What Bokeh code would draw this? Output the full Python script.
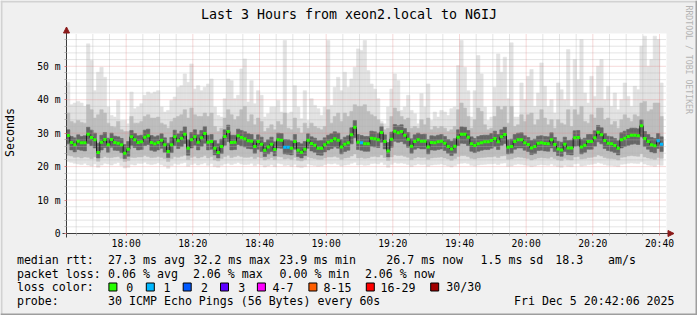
import math
from datetime import datetime
from bokeh.plotting import figure
from bokeh.models import (ColumnDataSource, Range1d, FixedTicker, DatetimeTickFormatter,
                          Arrow, NormalHead)
from bokeh.core.properties import value
from bokeh.embed import file_html
from bokeh.resources import INLINE

# ---------------- data ----------------
TITLE = "Last 3 Hours from xeon2.local to N6IJ"
START = datetime(2025, 12, 5, 17, 42, 6)
END = datetime(2025, 12, 5, 20, 42, 6)
STEP_S = 60
Y_MAX = 59.8  # ms

median_ms = [
    29.3, 27.2, 26.5, 27.6, 27.1, 27.1, 29.7, 28.7, 28.0, 24.2,
    27.3, 28.1, 26.5, 28.1, 27.2, 27.0, 26.5, 24.0, 25.2, 28.9,
    28.0, 27.2, 27.4, 28.8, 29.2, 27.2, 26.8, 27.2, 27.9, 26.5,
    24.5, 26.5, 28.9, 27.7, 28.5, 29.7, 25.5, 28.0, 28.9, 27.3,
    28.6, 29.9, 27.3, 27.5, 25.5, 24.2, 26.0, 29.0, 30.5, 27.2,
    27.3, 29.2, 28.7, 28.3, 27.7, 27.6, 26.0, 27.5, 26.7, 24.9,
    25.9, 26.7, 25.1, 28.0, 27.9, 25.8, 25.8, 25.5, 27.5, 24.9,
    24.3, 25.2, 27.9, 26.9, 26.4, 25.5, 25.5, 26.5, 27.3, 27.7,
    28.3, 27.9, 25.9, 26.7, 27.1, 29.5, 31.8, 27.3, 27.1, 26.8,
    26.8, 28.5, 28.3, 28.0, 30.2, 27.5, 24.7, 28.2, 30.6, 30.1,
    30.5, 29.4, 28.2, 26.1, 27.5, 28.0, 27.6, 27.6, 25.9, 27.2,
    27.1, 27.4, 27.6, 27.0, 26.0, 25.3, 26.1, 28.8, 29.7, 29.7,
    28.8, 26.8, 26.3, 26.8, 27.1, 27.4, 27.4, 27.8, 28.4, 27.4,
    28.9, 29.6, 25.8, 26.0, 27.5, 28.0, 28.0, 27.1, 26.6, 25.6,
    26.0, 27.0, 27.1, 26.9, 26.8, 28.0, 26.6, 25.3, 25.0, 26.7,
    25.6, 25.6, 28.6, 28.7, 25.9, 26.4, 27.5, 27.5, 28.6, 30.3,
    29.5, 27.8, 27.0, 26.8, 26.3, 25.5, 28.0, 28.5, 29.0, 29.4,
    29.4, 29.2, 32.2, 28.4, 27.5, 26.5, 26.2, 27.7, 26.7]

rtt_max = [
    45.2, 38.5, 39.0, 39.5, 39.0, 38.0, 56.7, 51.7, 42.7, 48.2,
    49.7, 46.7, 37.8, 35.3, 34.8, 39.8, 33.8, 33.8, 32.8, 42.3,
    37.3, 37.8, 38.8, 41.3, 42.3, 41.8, 42.3, 42.7, 37.8, 36.3,
    36.8, 39.8, 40.8, 43.7, 44.2, 47.7, 45.2, 50.7, 43.2, 44.2,
    42.7, 43.7, 44.7, 46.2, 37.8, 35.3, 34.8, 40.3, 46.2, 45.7,
    40.3, 41.3, 49.2, 52.2, 39.3, 45.7, 38.8, 42.7, 41.3, 34.8,
    35.8, 37.8, 37.8, 39.8, 36.3, 57.7, 35.8, 36.3, 44.2, 37.8,
    34.3, 42.7, 33.8, 40.3, 38.3, 37.3, 35.3, 37.8, 57.7, 38.3,
    43.7, 46.7, 42.7, 48.2, 43.7, 46.2, 49.7, 55.2, 54.7, 57.7,
    48.7, 44.7, 43.2, 40.3, 33.5, 32.8, 37.8, 43.2, 47.7, 45.7,
    36.8, 37.8, 41.3, 36.8, 35.8, 32.8, 41.8, 37.8, 44.7, 33.8,
    36.3, 34.8, 36.8, 36.3, 35.3, 37.3, 37.8, 50.2, 57.7, 49.7,
    42.7, 34.8, 42.7, 53.2, 47.7, 37.8, 33.8, 34.8, 43.7, 53.7,
    48.2, 52.7, 40.3, 57.0, 34.8, 34.8, 45.0, 40.0, 47.0, 49.0,
    38.0, 42.0, 51.0, 44.0, 38.0, 40.0, 36.0, 45.0, 43.0, 40.0,
    55.0, 38.0, 52.0, 46.0, 58.0, 42.0, 39.0, 47.0, 41.0, 50.0,
    52.0, 40.0, 44.0, 38.0, 42.0, 37.0, 40.0, 45.0, 41.0, 38.0,
    44.0, 43.0, 56.0, 59.0, 50.0, 52.0, 59.0, 58.0, 45.0]

rtt_p90 = [
    36.0, 33.5, 33.0, 33.8, 33.2, 33.0, 38.5, 37.0, 34.5, 35.5,
    37.0, 36.0, 33.0, 32.0, 31.8, 33.5, 31.0, 30.5, 30.5, 35.0,
    33.0, 33.0, 33.5, 35.0, 35.5, 34.5, 34.5, 34.8, 33.0, 32.5,
    31.5, 33.5, 34.5, 35.0, 35.5, 37.0, 34.5, 37.5, 35.5, 35.0,
    35.0, 36.0, 35.0, 36.0, 32.0, 30.5, 31.5, 34.5, 37.0, 35.5,
    34.0, 35.0, 37.0, 38.0, 33.5, 35.5, 32.5, 34.5, 33.5, 30.5,
    31.5, 32.5, 31.0, 33.5, 32.5, 36.0, 31.5, 31.0, 34.5, 31.5,
    30.0, 33.0, 31.5, 33.0, 32.0, 31.5, 31.0, 32.0, 37.0, 33.0,
    35.0, 36.0, 33.5, 36.0, 35.0, 36.5, 38.5, 38.0, 38.0, 38.5,
    36.5, 35.5, 35.0, 34.0, 32.8, 31.0, 31.5, 35.0, 37.5, 36.5,
    35.0, 34.0, 34.5, 31.5, 32.0, 31.5, 34.0, 32.5, 34.5, 31.0,
    32.0, 31.5, 32.0, 31.5, 30.5, 31.0, 32.0, 37.0, 39.0, 37.5,
    35.0, 31.5, 34.0, 37.5, 36.5, 32.5, 31.0, 31.5, 35.0, 38.0,
    37.0, 38.0, 33.0, 38.0, 32.0, 32.5, 35.5, 33.5, 35.5, 36.0,
    32.5, 34.0, 37.0, 34.5, 32.5, 34.0, 31.5, 34.0, 33.0, 32.5,
    37.0, 32.0, 37.0, 35.5, 38.0, 33.5, 33.0, 35.5, 34.5, 37.5,
    37.5, 34.0, 34.5, 32.5, 33.5, 31.5, 34.0, 35.5, 34.5, 33.5,
    35.5, 35.0, 39.0, 39.5, 36.5, 37.0, 39.0, 39.0, 35.0]

rtt_p75 = [
    31.0, 29.0, 28.6, 29.5, 29.0, 29.2, 31.8, 30.9, 30.0, 27.0,
    29.4, 30.2, 28.5, 30.0, 29.1, 28.9, 28.4, 26.6, 27.5, 30.8,
    29.9, 29.2, 29.4, 30.9, 31.2, 29.3, 28.9, 29.2, 29.8, 28.6,
    27.0, 28.7, 30.9, 29.8, 30.6, 31.9, 28.0, 30.2, 31.0, 29.5,
    30.8, 32.0, 29.4, 29.6, 27.8, 26.8, 28.2, 31.0, 32.4, 29.4,
    29.4, 31.2, 30.8, 30.4, 29.8, 29.6, 28.1, 29.5, 28.8, 27.2,
    28.0, 28.8, 27.4, 30.0, 29.9, 28.1, 28.0, 27.7, 29.6, 27.2,
    26.8, 27.5, 29.8, 28.9, 28.5, 27.7, 27.8, 28.6, 29.4, 29.8,
    30.4, 30.0, 28.1, 28.8, 29.2, 31.6, 33.8, 29.6, 29.3, 29.0,
    29.0, 30.6, 30.4, 30.0, 32.0, 29.5, 27.2, 30.3, 32.6, 32.2,
    32.5, 31.4, 30.2, 28.3, 29.5, 30.0, 29.6, 29.7, 28.1, 29.2,
    29.1, 29.4, 29.6, 29.0, 28.1, 27.6, 28.3, 31.0, 31.9, 31.8,
    30.8, 28.9, 28.4, 29.0, 29.3, 29.4, 29.4, 29.9, 30.6, 29.6,
    31.0, 31.8, 28.0, 28.2, 29.6, 30.0, 30.1, 29.2, 28.7, 27.8,
    28.2, 29.1, 29.2, 29.0, 28.9, 30.1, 28.7, 27.6, 27.3, 28.8,
    27.8, 27.9, 30.7, 30.8, 28.1, 28.5, 29.6, 29.6, 30.7, 32.3,
    31.6, 29.9, 29.1, 28.9, 28.4, 27.7, 30.1, 30.6, 31.1, 31.5,
    31.5, 31.3, 34.0, 30.5, 29.6, 28.7, 28.4, 29.9, 28.9]

rtt_p25 = [
    26.8, 25.0, 24.4, 25.1, 24.9, 24.7, 26.9, 26.3, 25.6, 22.6,
    25.0, 25.7, 24.3, 25.8, 24.9, 24.8, 24.2, 22.4, 23.1, 26.4,
    25.7, 25.0, 25.1, 26.3, 26.6, 24.9, 24.6, 25.0, 25.5, 24.3,
    22.7, 24.2, 26.3, 25.4, 26.0, 26.9, 23.4, 25.6, 26.4, 25.0,
    26.1, 27.0, 25.0, 25.2, 23.5, 22.6, 23.9, 26.4, 27.5, 25.0,
    25.1, 26.6, 26.2, 25.9, 25.4, 25.3, 24.0, 25.2, 24.5, 23.0,
    23.8, 24.5, 23.2, 25.6, 25.5, 23.8, 23.7, 23.5, 25.2, 23.0,
    22.6, 23.3, 25.5, 24.7, 24.3, 23.5, 23.4, 24.4, 25.0, 25.4,
    25.9, 25.5, 23.8, 24.5, 24.9, 26.8, 28.6, 25.1, 24.9, 24.6,
    24.6, 26.1, 25.9, 25.7, 27.3, 25.3, 22.9, 25.8, 27.6, 27.3,
    27.5, 26.8, 25.8, 24.0, 25.2, 25.6, 25.3, 25.3, 23.8, 25.0,
    24.9, 25.1, 25.3, 24.8, 24.0, 23.3, 24.0, 26.3, 27.0, 26.9,
    26.3, 24.6, 24.2, 24.6, 24.9, 25.1, 25.1, 25.5, 26.0, 25.1,
    26.4, 26.9, 23.8, 24.0, 25.2, 25.6, 25.6, 24.9, 24.5, 23.6,
    23.9, 24.8, 24.9, 24.7, 24.6, 25.6, 24.5, 23.3, 23.1, 24.5,
    23.6, 23.5, 26.1, 26.2, 23.8, 24.3, 25.2, 25.2, 26.1, 27.4,
    26.8, 25.4, 24.8, 24.6, 24.2, 23.5, 25.6, 26.0, 26.4, 26.7,
    26.8, 26.6, 28.9, 26.0, 25.2, 24.4, 24.1, 25.4, 24.5]

rtt_p10 = [
    23.4, 23.2, 22.8, 22.9, 22.6, 22.9, 22.8, 22.4, 22.9, 21.6,
    22.6, 23.0, 22.7, 22.7, 22.9, 23.0, 22.5, 21.5, 21.8, 22.8,
    22.7, 22.9, 22.9, 23.3, 23.0, 22.7, 22.8, 23.0, 22.8, 22.4,
    21.5, 22.4, 23.0, 22.8, 23.1, 23.4, 22.1, 22.8, 23.1, 22.6,
    22.9, 23.3, 22.6, 23.0, 22.0, 21.7, 22.4, 23.0, 23.4, 22.7,
    23.0, 23.3, 23.0, 22.8, 22.8, 23.0, 22.4, 22.9, 22.6, 22.0,
    22.3, 22.7, 22.1, 23.0, 22.9, 22.3, 22.5, 22.2, 22.8, 21.9,
    21.7, 22.1, 22.9, 22.6, 22.4, 22.2, 22.2, 22.6, 22.9, 22.9,
    23.1, 22.8, 22.2, 22.6, 22.7, 23.2, 23.8, 22.6, 22.7, 22.5,
    22.6, 23.0, 23.1, 22.9, 23.5, 22.7, 21.8, 22.9, 23.5, 23.3,
    23.4, 23.1, 22.8, 22.1, 22.6, 22.9, 22.7, 22.8, 22.2, 22.6,
    22.7, 22.8, 22.9, 22.6, 22.3, 21.9, 22.4, 23.0, 23.3, 23.3,
    23.0, 22.5, 22.3, 22.6, 22.7, 22.8, 22.9, 22.9, 23.1, 22.7,
    23.2, 23.3, 22.2, 22.3, 22.7, 22.9, 22.8, 22.6, 22.4, 22.0,
    22.3, 22.6, 22.7, 22.6, 22.5, 22.9, 22.4, 22.0, 21.8, 22.5,
    22.1, 22.0, 22.9, 23.0, 22.3, 22.4, 22.7, 22.8, 23.0, 23.5,
    23.2, 22.7, 22.5, 22.4, 22.3, 22.0, 22.8, 22.9, 23.2, 23.3,
    23.2, 23.1, 23.9, 22.9, 22.6, 22.4, 22.2, 22.7, 22.5]

rtt_min = [
    21.5, 21.3, 21.0, 20.8, 20.6, 21.0, 20.5, 20.2, 20.8, 19.8,
    20.5, 21.0, 20.8, 20.5, 20.9, 21.2, 20.3, 19.6, 19.8, 20.7,
    20.5, 21.0, 20.9, 21.3, 20.8, 20.6, 20.8, 21.1, 20.6, 20.2,
    19.5, 20.3, 20.9, 20.7, 21.0, 21.2, 20.1, 20.6, 21.0, 20.5,
    20.8, 21.1, 20.4, 20.9, 20.0, 19.8, 20.4, 20.8, 21.0, 20.6,
    20.9, 21.2, 20.8, 20.6, 20.7, 21.0, 20.3, 20.8, 20.5, 19.9,
    20.2, 20.6, 20.0, 21.0, 20.8, 20.3, 20.5, 20.1, 20.7, 19.9,
    19.7, 20.0, 20.8, 20.5, 20.3, 20.1, 20.2, 20.6, 20.9, 20.8,
    21.0, 20.7, 20.2, 20.5, 20.6, 21.0, 21.3, 20.5, 20.6, 20.4,
    20.5, 20.9, 21.0, 20.8, 21.3, 20.6, 19.8, 20.7, 21.2, 21.0,
    21.1, 20.9, 20.6, 20.0, 20.5, 20.8, 20.6, 20.7, 20.1, 20.5,
    20.6, 20.7, 20.8, 20.5, 20.2, 19.9, 20.3, 20.8, 21.0, 21.1,
    20.9, 20.4, 20.2, 20.5, 20.6, 20.7, 20.8, 20.8, 20.9, 20.6,
    21.0, 21.1, 20.1, 20.2, 20.6, 20.8, 20.7, 20.5, 20.3, 20.0,
    20.2, 20.5, 20.6, 20.5, 20.4, 20.8, 20.3, 20.0, 19.8, 20.4,
    20.1, 20.0, 20.8, 20.9, 20.2, 20.3, 20.6, 20.7, 20.9, 21.2,
    21.0, 20.6, 20.4, 20.3, 20.2, 20.0, 20.7, 20.8, 21.0, 21.1,
    21.0, 20.9, 21.4, 20.8, 20.5, 20.3, 20.1, 20.6, 20.4]

loss_pings = [
    0, 0, 0, 0, 0, 0, 0, 0, 0, 0, 0, 0, 0, 0, 0, 0, 0, 0, 0, 0, 0, 0, 0, 0, 0, 0, 0, 0, 0, 0,
    0, 0, 0, 0, 0, 0, 0, 0, 0, 0, 0, 0, 0, 0, 0, 0, 0, 0, 0, 0, 0, 0, 0, 0, 0, 0, 0, 0, 0, 0,
    0, 0, 0, 0, 0, 1, 1, 0, 0, 0, 0, 0, 0, 0, 0, 0, 0, 0, 0, 0, 0, 0, 0, 0, 0, 0, 0, 0, 1, 0,
    0, 0, 0, 0, 0, 0, 0, 0, 0, 0, 0, 0, 0, 0, 0, 0, 0, 0, 0, 0, 0, 0, 0, 0, 0, 0, 0, 0, 0, 0,
    0, 0, 0, 0, 0, 0, 0, 0, 0, 0, 0, 0, 0, 0, 0, 0, 0, 0, 0, 0, 0, 0, 0, 0, 0, 0, 0, 0, 0, 0,
    0, 0, 0, 0, 0, 0, 0, 0, 0, 0, 0, 0, 0, 0, 0, 0, 0, 0, 0, 0, 0, 0, 0, 0, 0, 0, 0, 1, 1]

loss_upper = [0, 1, 2, 3, 7, 15, 29, 30]
loss_labels = ["0", "1", "2", "3", "4-7", "8-15", "16-29", "30/30"]
loss_colors = ["#26ff00", "#00b8ff", "#0059ff", "#5e00ff", "#ff00ff", "#ff5e00", "#ff0000", "#a10000"]

y_ticks = [0, 10, 20, 30, 40, 50]
y_tick_labels = ["0", "10 m", "20 m", "30 m", "40 m", "50 m"]
x_tick_times = ["18:00", "18:20", "18:40", "19:00", "19:20", "19:40", "20:00", "20:20", "20:40"]

stats_rtt = ["median rtt:", "27.3 ms avg", "32.2 ms max", "23.9 ms min", "26.7 ms now",
             "1.5 ms sd", "18.3", "am/s"]
stats_loss = ["packet loss:", "0.06 % avg", "2.06 % max", "0.00 % min", "2.06 % now"]
probe_key = "probe:"
probe_text = "30 ICMP Echo Pings (56 Bytes) every 60s"
stamp_text = "Fri Dec  5 20:42:06 2025"
watermark = "RRDTOOL / TOBI OETIKER"

# ---------------- layout helpers (page pixels -> data) ----------------
EPOCH = datetime(1970, 1, 1)
def ms(dt):
    return (dt - EPOCH).total_seconds() * 1000.0

W, H = 697, 315
FL, FR, FT, FB = 66, 666, 33, 233      # rrd canvas in page pixels
t0, t1 = ms(START), ms(END)
MS_PER_PX = (t1 - t0) / (FR - FL)
def X(cx):
    return t0 + (cx - FL) * MS_PER_PX
def Y(cy):
    return (FB - cy) * Y_MAX / (FB - FT)

MONO = "DejaVu Sans Mono"
BG = "#f0f0f0"
SHADE_A = "#d2d2d2"
SHADE_B = "#9e9e9e"
AXIS_C = "#3c3c3c"
ARROW_C = "#8b1a1a"
GRID_MIN = "#b4b4b4"
GRID_MAJ = "#e28080"

N = len(median_ms)
left = [t0 + i * STEP_S * 1000.0 for i in range(N)]
right = [l + STEP_S * 1000.0 for l in left]

def loss_color(n):
    for up, c in zip(loss_upper, loss_colors):
        if n <= up:
            return c
    return loss_colors[-1]

src = ColumnDataSource(dict(left=left, right=right, med=median_ms, mn=rtt_min, p10=rtt_p10,
                            p25=rtt_p25, p75=rtt_p75, p90=rtt_p90, mx=rtt_max,
                            col=[loss_color(n) for n in loss_pings]))

p = figure(width=W, height=H, x_axis_type="datetime", title=None,
           x_range=Range1d(X(0), X(W)), y_range=Range1d(Y(H), Y(0)),
           output_backend="svg", toolbar_location=None,
           min_border_left=0, min_border_right=0, min_border_top=0, min_border_bottom=0)
p.background_fill_color = BG
p.border_fill_color = BG
p.outline_line_color = None
p.xgrid.visible = False
p.ygrid.visible = False

# image frame shading (top/left light, bottom/right dark)
p.quad(left=[X(0), X(0)], right=[X(2), X(W)], bottom=[Y(H), Y(2)], top=[Y(0), Y(0)],
       fill_color=SHADE_A, line_color=None)
p.quad(left=[X(W - 2), X(0)], right=[X(W), X(W)], bottom=[Y(H), Y(H)], top=[Y(0), Y(H - 2)],
       fill_color=SHADE_B, line_color=None)

# white rrd canvas
p.quad(left=[t0], right=[t1], bottom=[0], top=[Y_MAX], fill_color="#ffffff", line_color=None)

# smoke
for lo, hi, c in [("mn", "mx", "#e2e2e2"), ("p10", "p90", "#bdbdbd"), ("p25", "p75", "#666666")]:
    p.quad(left="left", right="right", bottom=lo, top=hi, source=src,
           fill_color=c, line_color=c, line_width=0.6)

# grid (drawn over the smoke)
major_x = [ms(datetime(2025, 12, 5, int(s[:2]), int(s[3:]))) for s in x_tick_times]
minor_x = [t for t in (ms(datetime(2025, 12, 5, 17, 45)) + k * 300000.0 for k in range(36))
           if t <= t1 and t not in major_x]
minor_y = [v for v in range(2, 60, 2) if v % 10]
p.segment(x0=minor_x, x1=minor_x, y0=[0] * len(minor_x), y1=[Y_MAX] * len(minor_x),
          line_color=GRID_MIN, line_dash="1 1", line_alpha=0.7, line_width=1)
p.segment(x0=[t0] * len(minor_y), x1=[t1] * len(minor_y), y0=minor_y, y1=minor_y,
          line_color=GRID_MIN, line_dash="1 1", line_alpha=0.7, line_width=1)
p.segment(x0=major_x, x1=major_x, y0=[0] * len(major_x), y1=[Y_MAX] * len(major_x),
          line_color=GRID_MAJ, line_dash="1 1", line_alpha=0.6, line_width=1)
p.segment(x0=[t0] * 5, x1=[t1] * 5, y0=y_ticks[1:], y1=y_ticks[1:],
          line_color=GRID_MAJ, line_dash="1 1", line_alpha=0.6, line_width=1)

# median
p.step(x=left + [right[-1]], y=median_ms + [median_ms[-1]], mode="after",
       line_color="#1e1e1e", line_width=1)
p.segment(x0="left", x1="right", y0="med", y1="med", source=src, line_color="col", line_width=3)

# axes drawn at the rrd canvas edges
p.xaxis.fixed_location = 0
p.yaxis.fixed_location = t0
p.xaxis.ticker = FixedTicker(ticks=major_x, minor_ticks=minor_x)
p.xaxis.formatter = DatetimeTickFormatter(minutes="%H:%M", hourmin="%H:%M", hours="%H:%M")
p.yaxis.ticker = FixedTicker(ticks=y_ticks, minor_ticks=minor_y)
p.yaxis.major_label_overrides = dict(zip(y_ticks, y_tick_labels))
p.xaxis.bounds = (X(62), X(673))
p.yaxis.bounds = (Y(237), Y(27))
for ax in (p.xaxis, p.yaxis):
    ax.axis_line_color = AXIS_C
    ax.major_tick_in = 0
    ax.minor_tick_in = 0
    ax.major_tick_out = 2
    ax.minor_tick_out = 2
    ax.major_tick_line_color = GRID_MAJ
    ax.minor_tick_line_color = GRID_MIN
    ax.major_label_text_font = MONO
    ax.major_label_text_font_size = "9.7px"
    ax.major_label_text_color = "#000000"
p.xaxis.major_label_standoff = 2
p.yaxis.major_label_standoff = 4
p.yaxis.axis_label = "Seconds"
p.yaxis.axis_label_text_font = MONO
p.yaxis.axis_label_text_font_size = "11.6px"
p.yaxis.axis_label_text_font_style = "normal"
p.yaxis.axis_label_text_color = "#000000"
p.yaxis.axis_label_standoff = 17

# axis arrows
p.add_layout(Arrow(end=NormalHead(size=6, fill_color=ARROW_C, line_color=ARROW_C, line_width=1),
                   x_start=X(667), y_start=0, x_end=X(673.5), y_end=0, line_color=AXIS_C))
p.add_layout(Arrow(end=NormalHead(size=6, fill_color=ARROW_C, line_color=ARROW_C, line_width=1),
                   x_start=t0, y_start=Y(33), x_end=t0, y_end=Y(26.5), line_color=AXIS_C))

def put_text(cxs, cys, texts, size="11.6px", align="left", color="#000000", angle=0.0):
    p.text(x=[X(c) for c in cxs], y=[Y(c) for c in cys], text=texts, text_font=value(MONO),
           text_font_size=value(size), text_align=align, text_baseline="middle",
           text_color=color, angle=angle)

# title and watermark
put_text([348.5], [14], [TITLE], size="13.3px", align="center")
put_text([688], [5], [watermark], size="8.2px", color="#b4b4b4", angle=-math.pi / 2)

# legend block
rtt_x = [16.4, 107.6, 192.9, 278.7, 385.8, 480.0, 554.7, 607.6]
put_text(rtt_x, [259] * len(rtt_x), stats_rtt)
loss_x = [16.4, 107.6, 192.4, 279.1, 364.4]
put_text(loss_x, [273] * len(loss_x), stats_loss)
sq_x = [108.4, 145.8, 182.7, 220.0, 256.9, 308.4, 365.8, 430.2]
lab_x = [125.8, 163.1, 200.4, 237.8, 272.0, 323.0, 380.0, 445.8]
put_text([16.4] + lab_x, [286.5] * (len(lab_x) + 1), ["loss color:"] + loss_labels)
p.quad(left=[X(v) for v in sq_x], right=[X(v + 8) for v in sq_x],
       top=[Y(282.5)] * 8, bottom=[Y(290.5)] * 8,
       fill_color=loss_colors, line_color="#000000", line_width=1)
put_text([16.4, 107.6], [300, 300], [probe_key, probe_text])
put_text([681], [300], [stamp_text], align="right")

open("out.html", "w").write(file_html(p, INLINE))
